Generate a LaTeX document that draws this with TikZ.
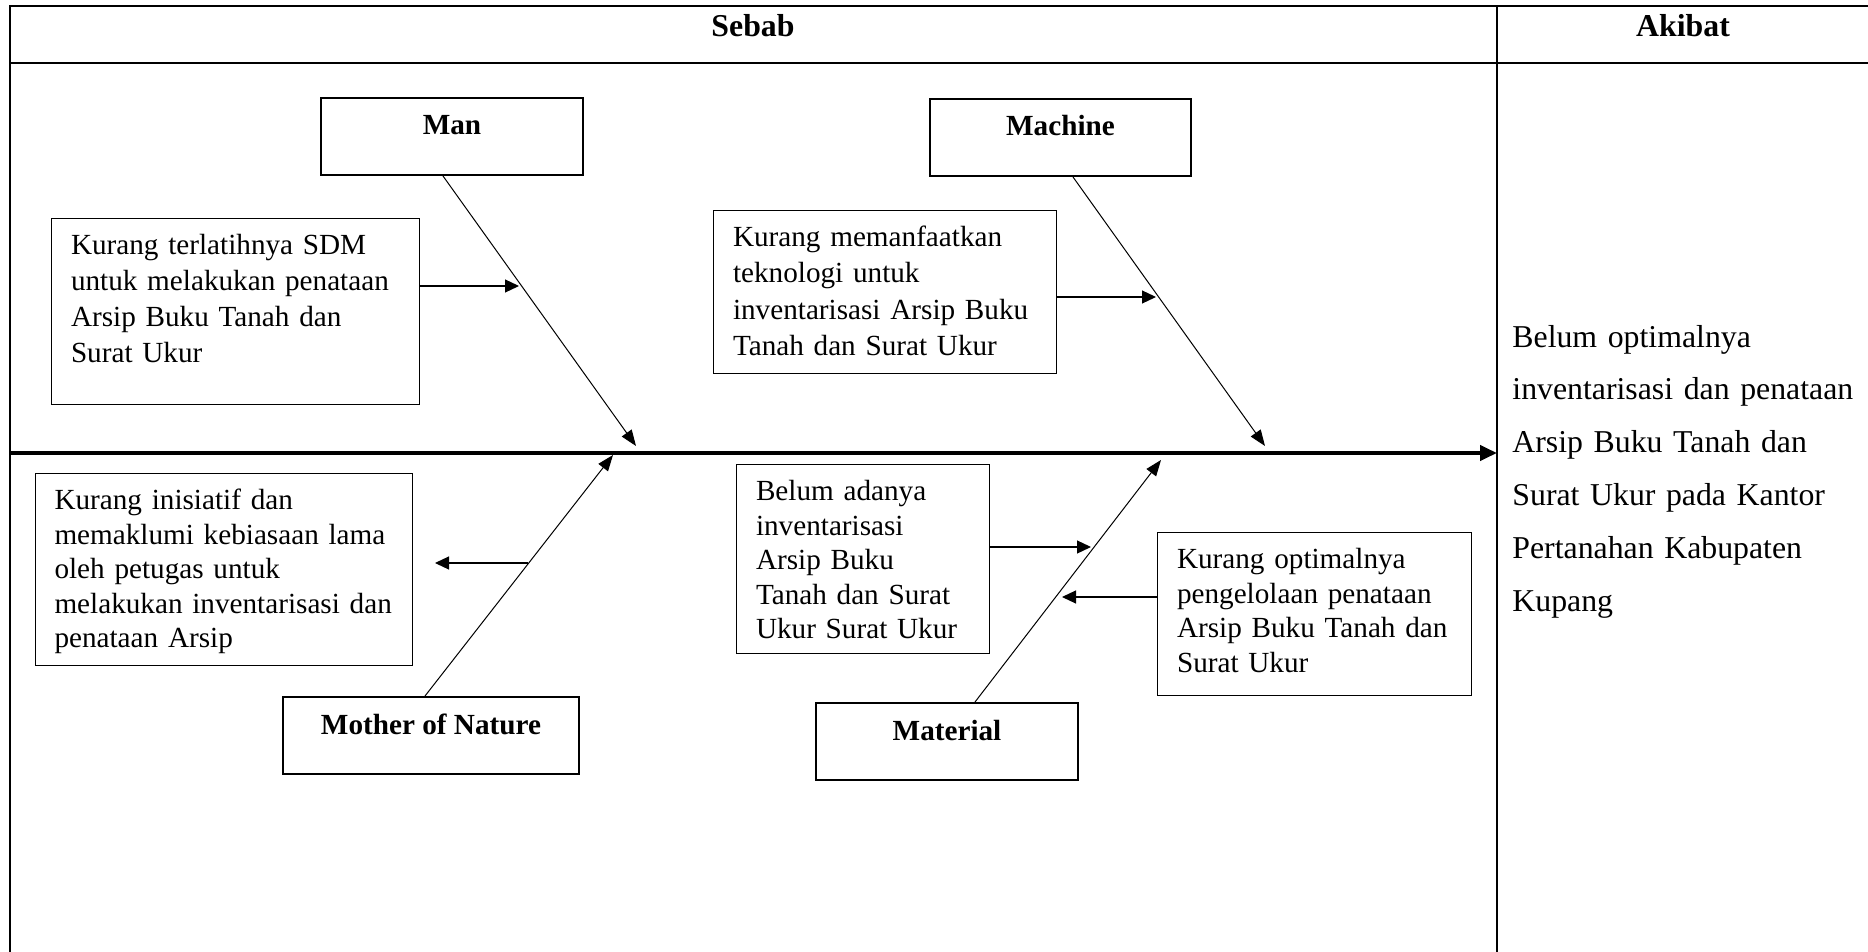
\documentclass[tikz,border=0pt]{standalone}
\usepackage{fontspec}
\setmainfont{Liberation Serif}
\usetikzlibrary{arrows.meta}

\begin{document}
\begin{tikzpicture}[x=0.5pt, y=-0.5pt,
    every node/.style={font=\fontsize{14.6pt}{17.25pt}\selectfont},
    catbox/.style={draw, line width=1pt, font=\fontsize{14.6pt}{17.5pt}\selectfont\bfseries, anchor=north west, inner sep=0pt, text height=18.5pt, text depth=20pt},
    causebox/.style={draw, line width=0.5pt, anchor=north west, align=left, inner xsep=9.75pt, inner ysep=0pt, text height=18pt},
    headtext/.style={font=\fontsize{15.9pt}{19pt}\selectfont\bfseries, anchor=base, inner sep=0pt},
    bone/.style={line width=0.5pt, -{Triangle[length=8pt,width=6pt]}},
    twig/.style={line width=0.6pt, -{Triangle[length=7pt,width=6.5pt]}},
    spine/.style={line width=2pt, -{Triangle[length=8.5pt,width=7.5pt]}},
    frame/.style={line width=1pt}]
  \useasboundingbox (0,0) rectangle (1868,952);

  % table
  \draw[frame] (1868,6) -- (9.5,6) -- (9.5,952);
  \draw[frame] (9.5,63) -- (1868,63);
  \draw[frame] (1497,6) -- (1497,952);
  \node[headtext] (sebab) at (753,37) {Sebab};
  \node[headtext] (akibat) at (1683,37) {Akibat};

  % categories
  \node[catbox, minimum width=131pt] (man) at (320,97) {Man};
  \node[catbox, minimum width=130.5pt] (machine) at (929,98) {Machine};
  \node[catbox, minimum width=148pt] (nature) at (282,696) {Mother of Nature};
  \node[catbox, minimum width=131pt] (material) at (815,702) {Material};

  % causes
  \node[causebox, text width=164.5pt, text depth=75pt, font=\fontsize{14.6pt}{18pt}\selectfont] (c1) at (51,218) {Kurang terlatihnya SDM\\untuk melakukan penataan\\Arsip Buku Tanah dan\\Surat Ukur};
  \node[causebox, text width=152pt, text depth=63.5pt, font=\fontsize{14.6pt}{18.25pt}\selectfont] (c2) at (713,210) {Kurang memanfaatkan\\teknologi untuk\\inventarisasi Arsip Buku\\Tanah dan Surat Ukur};
  \node[causebox, text width=169.25pt, text depth=78pt] (c3) at (34.5,473) {Kurang inisiatif dan\\memaklumi kebiasaan lama\\oleh petugas untuk\\melakukan inventarisasi dan\\penataan Arsip};
  \node[causebox, text width=107pt, text depth=76.5pt] (c4) at (736,464) {Belum adanya\\inventarisasi\\Arsip Buku\\Tanah dan Surat\\Ukur Surat Ukur};
  \node[causebox, text width=137.5pt, text depth=63.5pt] (c5) at (1157,532) {Kurang optimalnya\\pengelolaan penataan\\Arsip Buku Tanah dan\\Surat Ukur};

  % effect
  \node[anchor=base west, align=left, text width=185pt, inner sep=0pt, font=\fontsize{15.9pt}{26.4pt}\selectfont] (effect) at (1512,347) {Belum optimalnya\\inventarisasi dan penataan\\Arsip Buku Tanah dan\\Surat Ukur pada Kantor\\Pertanahan Kabupaten\\Kupang};

  % spine and bones
  \coordinate (tail) at (9.5,453);
  \coordinate (head) at (1497,453);
  \draw[spine] (tail) -- (head);

  \coordinate (manend) at (636,446);
  \coordinate (machineend) at (1265,446);
  \coordinate (natureend) at (613,455);
  \coordinate (materialend) at (1161,460);
  \draw[bone] ([xshift=-4.5pt]man.south) -- (manend);
  \draw[bone] ([xshift=6.25pt]machine.south) -- (machineend);
  \draw[bone] ([xshift=-3pt]nature.north) -- (natureend);
  \draw[bone] ([xshift=14pt]material.north) -- (materialend);

  % cause arrows
  \coordinate (mantwig) at (519,286);
  \coordinate (machinetwig) at (1156,297);
  \coordinate (naturetwig) at (528,563);
  \coordinate (materialtwigA) at (1091,547);
  \coordinate (materialtwigB) at (1062,597);
  \draw[twig] (c1.east |- mantwig) -- (mantwig);
  \draw[twig] (c2.east |- machinetwig) -- (machinetwig);
  \draw[twig] (naturetwig) -- ([xshift=11pt]c3.east |- naturetwig);
  \draw[twig] (c4.east |- materialtwigA) -- (materialtwigA);
  \draw[twig] (c5.west |- materialtwigB) -- (materialtwigB);
\end{tikzpicture}
\end{document}
